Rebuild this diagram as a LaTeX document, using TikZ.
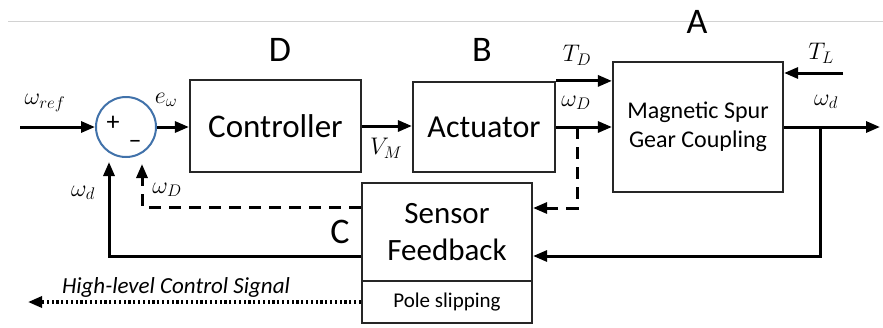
\documentclass[tikz,border=0pt]{standalone}
\usepackage{fix-cm}
\usepackage{fontspec}
\setmainfont{Carlito}
\usetikzlibrary{arrows.meta}
\definecolor{sumblue}{RGB}{65,114,170}
\definecolor{rulegray}{RGB}{210,210,210}
\begin{document}
\begin{tikzpicture}[x=1pt,y=-1pt,
  box/.style={draw=black!85, line width=2.2pt, inner sep=0pt},
  wire/.style={line width=3pt, black},
  arr/.style={wire, -{Triangle[length=14pt,width=11pt]}},
  dashwire/.style={dash pattern=on 12pt off 8pt},
  dotwire/.style={line width=3.2pt, dash pattern=on 2.2pt off 2.6pt},
  mlab/.style={font=\fontsize{24}{28}\selectfont, inner sep=0pt},
  tag/.style={font=\fontsize{36}{40}\selectfont, inner sep=0pt}]
\useasboundingbox (0,0) rectangle (883,327);

% thin rule across the top
\coordinate (ruleL) at (8,21);
\coordinate (ruleR) at (883,21);
\draw[rulegray, line width=0.9pt] (ruleL) -- (ruleR);

% blocks
\node[box, minimum width=171pt, minimum height=92pt,
      font=\fontsize{33}{36}\selectfont] (ctrl) at (275.5,126) {Controller};
\node[box, minimum width=142pt, minimum height=90pt,
      font=\fontsize{32}{36}\selectfont] (act) at (484,127) {Actuator};
\node[box, minimum width=170pt, minimum height=130pt, align=center,
      font=\fontsize{24}{29}\selectfont] (msg) at (698,127) {Magnetic Spur\\Gear Coupling};
\node[box, minimum width=170pt, minimum height=98pt, align=center,
      font=\fontsize{31}{37}\selectfont] (sens) at (447,232) {Sensor\\Feedback};
\node[box, minimum width=170pt, minimum height=42pt,
      font=\fontsize{21}{24}\selectfont] (pole) at (447,302) {Pole slipping};

% summing junction
\node[circle, draw=sumblue, line width=2pt, minimum size=60pt, inner sep=0pt] (sum) at (126,127) {};
\node[font=\fontsize{26}{26}\selectfont, inner sep=0pt] (plus) at (113,123) {+};
\node[font=\fontsize{26}{26}\selectfont, inner sep=0pt] (minus) at (135,144) {\textendash};

% forward path
\coordinate (win) at (20,127);
\draw[arr] (win) -- (sum.west);
\draw[arr] (sum.east) -- (ctrl.west |- sum.east);
\draw[arr] (ctrl.east) -- (ctrl.east -| act.west);
\draw[arr] (act.north east) -- (act.north east -| msg.west);
\draw[arr] (act.east) -- (act.east -| msg.west);
\coordinate (tl) at (843,73);
\draw[arr] (tl) -- (tl -| msg.east);
\coordinate (wout) at (880,127);
\draw[arr] (msg.east) -- (wout);

% measured output back to the sensor
\coordinate (fbR) at (820,127);
\coordinate (fbRb) at (820,256);
\draw[arr] (fbR) -- (fbRb) -- (fbRb -| sens.east);
\coordinate (dsh) at (577,127);
\coordinate (dshb) at (577,208);
\draw[arr, dashwire] (dsh) -- (dshb) -- (dshb -| sens.east);

% sensor outputs back to the junction
\coordinate (dL) at (142,207);
\coordinate (dLt) at (142,164);
\draw[arr, dashwire] (dL -| sens.west) -- (dL) -- (dLt);
\coordinate (sL) at (109,256);
\coordinate (sLt) at (109,162);
\draw[arr] (sL -| sens.west) -- (sL) -- (sLt);

% supervisory signal
\coordinate (hl) at (28,302);
\draw[arr, dotwire] (pole.west) -- (hl);
\node[font=\fontsize{23}{26}\selectfont\itshape, inner sep=0pt] (hls) at (176,287) {High-level Control Signal};

% signal labels
\node[mlab] (lref) at (45,103) {$\omega_{ref}$};
\node[mlab] (le) at (166,100) {$e_\omega$};
\node[mlab] (lvm) at (386,148) {$V_M$};
\node[mlab] (ltd) at (577,55) {$T_D$};
\node[mlab] (lwD1) at (576,103) {$\omega_D$};
\node[mlab] (ltl) at (821,53) {$T_L$};
\node[mlab] (lwd1) at (826,102) {$\omega_d$};
\node[mlab] (lwd2) at (83,193) {$\omega_d$};
\node[mlab] (lwD2) at (167,190) {$\omega_D$};

% block tags
\node[tag] (tD) at (280,50) {D};
\node[tag] (tB) at (482,50) {B};
\node[tag] (tA) at (697,22) {A};
\node[tag] (tC) at (340,232) {C};
\end{tikzpicture}
\end{document}
